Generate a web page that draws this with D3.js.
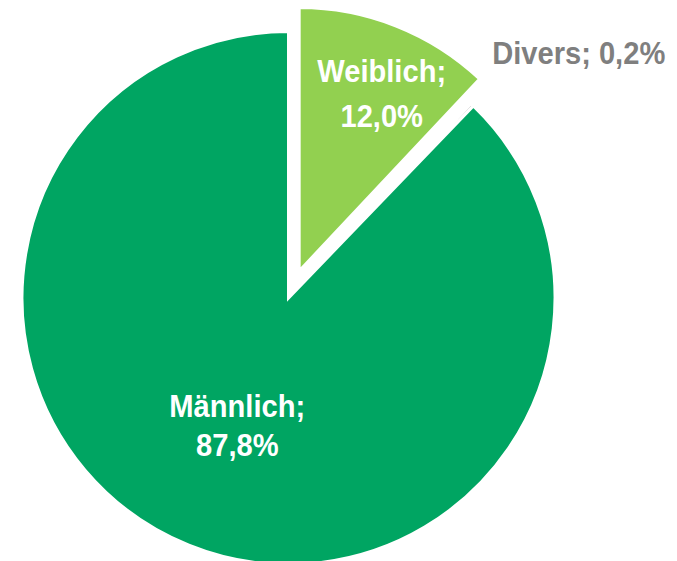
<!DOCTYPE html>
<html>
<head>
<meta charset="utf-8">
<script src="https://cdn.jsdelivr.net/npm/d3@7"></script>
<style>
  html, body { margin: 0; padding: 0; background: #ffffff; }
  svg { display: block; }
</style>
</head>
<body>
<svg id="chart" width="677" height="561"></svg>
<script>
// ---- data ----
const categories = ["Weiblich", "Divers", "Männlich"];
const values = [12.0, 0.2, 87.8];
const colors = ["#92D050", "#A6A6A6", "#00A562"];
const exploded = [true, false, false];

// ---- layout ----
const W = 677, H = 561;
const cx = 288.5, cy = 298;
const R = 266.5;
const explodeDist = 29;
const fmt = v => d3.format(".1f")(v).replace(".", ",") + "%";

const svg = d3.select("#chart");
const data = categories.map((c, i) => ({ name: c, value: values[i], color: colors[i], exploded: exploded[i] }));

const pie = d3.pie().sort(null).value(d => d.value).startAngle(0).endAngle(2 * Math.PI);
const arcs = pie(data);

const arcMain = d3.arc().innerRadius(0).outerRadius(R);
const arcExpl = d3.arc().innerRadius(0).outerRadius(R - 3);

function offset(d) {
  if (!d.data.exploded) return [0, 0];
  const a = (d.startAngle + d.endAngle) / 2;
  return [explodeDist * Math.sin(a), -explodeDist * Math.cos(a)];
}

const g = svg.append("g").attr("transform", `translate(${cx},${cy})`);

g.selectAll("path.slice")
  .data(arcs)
  .join("path")
  .attr("class", "slice")
  .attr("transform", d => { const o = offset(d); return `translate(${o[0]},${o[1]})`; })
  .attr("d", d => d.data.exploded ? arcExpl(d) : arcMain(d))
  .attr("fill", d => d.data.color)
  .attr("stroke", "#ffffff")
  .attr("stroke-width", 3)
  .attr("stroke-linejoin", "miter");

// ---- labels ----
const fontSize = 32, capH = 23, sx = 0.91;
function drawLabel(x, y, lines, gap, color) {
  // y = vertical center of text block (cap heights)
  const n = lines.length;
  const firstBase = y - (gap * (n - 1)) / 2 + capH / 2;
  lines.forEach((t, i) => {
    svg.append("text")
      .attr("transform", `translate(${x},${firstBase + i * gap}) scale(${sx},1)`)
      .attr("text-anchor", "middle")
      .attr("font-family", "'Liberation Sans', Arial, sans-serif")
      .attr("font-weight", "bold")
      .attr("font-size", fontSize)
      .attr("fill", color)
      .text(t);
  });
}

arcs.forEach(d => {
  const mid = (d.startAngle + d.endAngle) / 2;
  const o = offset(d);
  if (d.data.name === "Weiblich") {
    const a = mid + 3.3 * Math.PI / 180, r = 196;
    drawLabel(cx + o[0] + r * Math.sin(a), cy + o[1] - r * Math.cos(a),
      [d.data.name + ";", fmt(d.data.value)], 45, "#ffffff");
  } else if (d.data.name === "Männlich") {
    const r = 137;
    drawLabel(cx + r * Math.sin(mid), cy - r * Math.cos(mid),
      [d.data.name + ";", fmt(d.data.value)], 39.5, "#ffffff");
  } else {
    drawLabel(cx + R * 1.089, cy - R * 0.923,
      [d.data.name + "; " + fmt(d.data.value)], 0, "#7F7F7F");
  }
});
</script>
</body>
</html>
